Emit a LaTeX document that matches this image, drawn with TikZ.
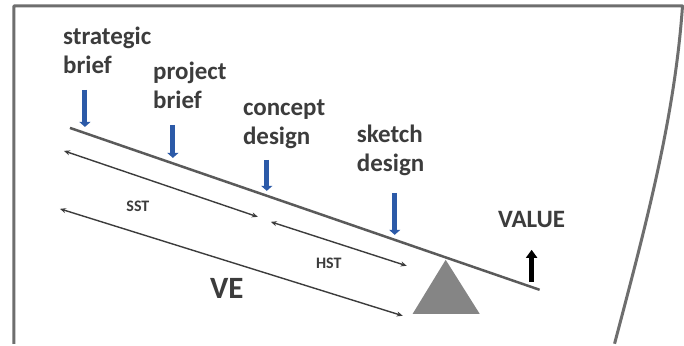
\documentclass[tikz,border=0pt]{standalone}
\usepackage{fontspec}
\setmainfont{Carlito}
\usetikzlibrary{
  arrows.meta,
  calc,
}
\definecolor{ink}{HTML}{3C3C3C}
\definecolor{frameedge}{HTML}{6E6E6E}
\definecolor{beamgrey}{HTML}{5A5A5A}
\definecolor{pivotgrey}{HTML}{858585}
\definecolor{stageblue}{HTML}{2C5AA8}
\tikzset{
  ve/.style={
    x=1pt, y=1pt,
    line join=round,
  },
  stage/.style={
    font=\fontsize{25}{29}\selectfont\bfseries,
    text=ink,
    align=left,
    anchor=base west,
    inner sep=0pt,
  },
  tag/.style={
    font=\fontsize{#1}{#1}\selectfont\bfseries,
    text=ink,
    inner sep=0pt,
  },
  drop/.style={
    -{Triangle[length=5pt, width=11pt]},
    line width=5pt,
    draw=stageblue,
  },
  span/.style={
    {Stealth[length=6pt, width=5pt]}-{Stealth[length=6pt, width=5pt]},
    line width=1.4pt,
    draw=ink,
  },
  rim/.style={
    draw=frameedge,
    line width=3pt,
  },
}

\begin{document}
\begin{tikzpicture}[ve]
  \fill[white] (0,0) rectangle (684,342);

  % frame (open at the bottom)
  \coordinate (fBL) at (14,-2);
  \coordinate (fTL) at (14,336);
  \coordinate (fTR) at (683,336);
  \coordinate (fBR) at (615,-2);
  \draw[rim] (fBL) -- (fTL) -- (fTR)
    .. controls (675,222) and (645,112) .. (fBR);

  % the beam and its pivot
  \coordinate (beamL) at (70,214);
  \coordinate (beamR) at (540,52);
  \draw[beamgrey, line width=2.5pt] (beamL) -- (beamR);
  \coordinate (apex) at (446,82);
  \fill[pivotgrey] (apex) -- (480,28) -- (413,28) -- cycle;

  % stages along the beam (anchor on the second line)
  \node[stage] (strat) at (63,268) {strategic\\brief};
  \node[stage] (proj) at (153,233) {project\\brief};
  \node[stage] (conc) at (243,197) {concept\\design};
  \node[stage] (sketch) at (357,170) {sketch\\design};

  \coordinate (stratTop) at (85,252);
  \coordinate (stratTip) at (85,215);
  \coordinate (projTop) at (173,217);
  \coordinate (projTip) at (173,184);
  \coordinate (concTop) at (267,182);
  \coordinate (concTip) at (267,151);
  \coordinate (sketchTop) at (395,149);
  \coordinate (sketchTip) at (395,107);
  \foreach \s in {strat,proj,conc,sketch}
    \draw[drop] (\s Top) -- (\s Tip);

  % spans under the beam
  \coordinate (sstL) at (64,191);
  \coordinate (sstR) at (258,125);
  \coordinate (hstL) at (271,120);
  \coordinate (hstR) at (407,76);
  \coordinate (veL) at (60,133);
  \coordinate (veR) at (403,26);
  \draw[span] (sstL) -- (sstR);
  \draw[span] (hstL) -- (hstR);
  \draw[span] (veL) -- (veR);

  \node[tag=16] (sst) at (138,136) {SST};
  \node[tag=16] (hst) at (329,78) {HST};
  \node[tag=31] (ve) at (227,53) {VE};

  % value side
  \node[tag=25] (value) at (532,122) {VALUE};
  \coordinate (valBot) at (532,60);
  \coordinate (valTop) at (532,92);
  \draw[-{Triangle[length=8pt, width=11pt]}, line width=5pt, black]
    (valBot) -- (valTop);

  \useasboundingbox (0,0) rectangle (684,342);
\end{tikzpicture}
\end{document}
